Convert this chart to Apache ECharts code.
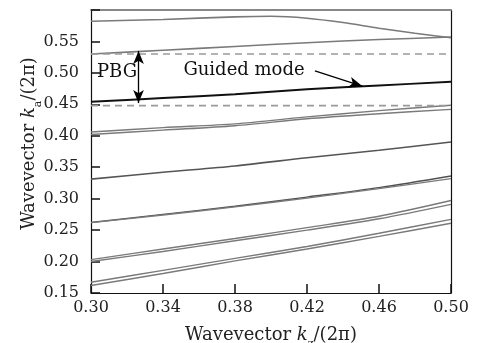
<!DOCTYPE html>
<html>
<head>
<meta charset="utf-8">
<script src="https://cdn.jsdelivr.net/npm/echarts@6/dist/echarts.min.js"></script>
<style>html,body{margin:0;padding:0;background:#fff;}#c{width:483px;height:343px;}</style>
</head>
<body>
<div id="c"></div>
<script>
// ---- data ----
const kz = [0.30, 0.34, 0.38, 0.42, 0.46, 0.50];
const kzTop = [0.30, 0.34, 0.38, 0.40, 0.42, 0.44, 0.46, 0.48, 0.50];
const band1 = [0.582, 0.585, 0.589, 0.590, 0.587, 0.580, 0.571, 0.563, 0.556];
const band2 = [0.530, 0.536, 0.542, 0.548, 0.553, 0.557];
const guided = [0.454, 0.460, 0.466, 0.474, 0.480, 0.486];
const band6a = [0.406, 0.413, 0.419, 0.430, 0.440, 0.4485];
const band6b = [0.402, 0.409, 0.416, 0.427, 0.435, 0.442];
const band7 = [0.331, 0.342, 0.352, 0.365, 0.377, 0.390];
const band8a = [0.262, 0.275, 0.288, 0.3025, 0.3175, 0.336];
const band8b = [0.262, 0.274, 0.287, 0.301, 0.316, 0.332];
const band9a = [0.203, 0.220, 0.2366, 0.254, 0.272, 0.297];
const band9b = [0.200, 0.216, 0.233, 0.250, 0.268, 0.291];
const band10a = [0.167, 0.186, 0.205, 0.224, 0.245, 0.267];
const band10b = [0.162, 0.181, 0.201, 0.220, 0.240, 0.261];
const gapEdges = [0.530, 0.448];          // photonic band gap edges (dashed)
const xTicks = [0.30, 0.34, 0.38, 0.42, 0.46, 0.50];
const yTicks = [0.15, 0.20, 0.25, 0.30, 0.35, 0.40, 0.45, 0.50, 0.55];
const pbgArrow = [[0.3264, 0.535], [0.3264, 0.452]];
const guidedArrow = [[0.4244, 0.5032], [0.451, 0.4785]];

const FONT = '"DejaVu Serif", "Liberation Serif", serif';
const zip = (xs, ys) => xs.map((x, i) => [x, ys[i]]);

function line(data, color, width, extra) {
  return Object.assign({
    type: 'line', data: data, showSymbol: false, smooth: 0.3, silent: true,
    lineStyle: { color: color, width: width }, z: 3
  }, extra || {});
}

const GRAY = '#7a7a7a';
const series = [
  line(zip(kzTop, band1), GRAY, 1.6),
  line(zip(kz, band2), GRAY, 1.6),
  line(zip(kz, band6a), GRAY, 1.4),
  line(zip(kz, band6b), GRAY, 1.4),
  line(zip(kz, band7), '#555', 1.6),
  line(zip(kz, band8a), '#505050', 1.4),
  line(zip(kz, band8b), GRAY, 1.3),
  line(zip(kz, band9a), GRAY, 1.4),
  line(zip(kz, band9b), GRAY, 1.4),
  line(zip(kz, band10a), GRAY, 1.4),
  line(zip(kz, band10b), GRAY, 1.4),
  line(zip(kz, guided), '#111', 1.9, { z: 4 }),
  line([[xTicks[0], gapEdges[0]], [xTicks[xTicks.length - 1], gapEdges[0]]], '#9a9a9a', 1.5,
       { smooth: false, lineStyle: { color: '#9a9a9a', width: 1.6, type: [7, 5] } }),
  line([[xTicks[0], gapEdges[1]], [xTicks[xTicks.length - 1], gapEdges[1]]], '#9a9a9a', 1.5,
       { smooth: false, lineStyle: { color: '#9a9a9a', width: 1.6, type: [7, 5] },
         markLine: {
           silent: true, animation: false, label: { show: false },
           data: [
             [{ coord: pbgArrow[0], symbol: 'arrow', symbolSize: [8, 13] },
              { coord: pbgArrow[1], symbol: 'arrow', symbolSize: [8, 13] }],
             [{ coord: guidedArrow[0], symbol: 'none' },
              { coord: guidedArrow[1], symbol: 'arrow', symbolSize: [8, 14] }]
           ],
           lineStyle: { color: '#000', width: 1.3, type: 'solid' }
         } })
];

const nameRich = {
  n: { fontFamily: FONT, fontSize: 18, color: '#222', lineHeight: 22 },
  k: { fontFamily: FONT, fontSize: 18, fontStyle: 'italic', color: '#222', lineHeight: 22 },
  s: { fontFamily: FONT, fontSize: 11, color: '#222', lineHeight: 29, verticalAlign: 'bottom' }
};

const chart = echarts.init(document.getElementById('c'), null, { renderer: 'canvas' });
chart.setOption({
  animation: false,
  backgroundColor: '#fff',
  grid: { left: 91, right: 32, top: 10, bottom: 50, containLabel: false, outerBoundsMode: 'none' },
  xAxis: [{
    type: 'value', min: 0.30, max: 0.50, interval: 0.04,
    axisLine: { show: true, lineStyle: { color: '#111', width: 1.2 } },
    axisTick: { show: true, inside: true, length: 9, lineStyle: { color: '#111', width: 1.5 } },
    axisLabel: { fontFamily: FONT, fontSize: 16, color: '#222', margin: 7,
                 formatter: v => v.toFixed(2) },
    splitLine: { show: false },
    name: '{n|Wavevector }{k|k}{s|z}{n|/(2π)}',
    nameLocation: 'middle', nameGap: 28, nameMoveOverlap: false,
    nameTextStyle: { rich: nameRich }
  }, {
    type: 'value', min: 0.30, max: 0.50, position: 'top',
    axisLine: { show: true, lineStyle: { color: '#888', width: 2 } },
    axisTick: { show: false }, axisLabel: { show: false }, splitLine: { show: false }
  }],
  yAxis: [{
    type: 'value', min: 0.15, max: 0.60, interval: 0.05,
    axisLine: { show: true, lineStyle: { color: '#111', width: 1.2 } },
    axisTick: { show: true, inside: true, length: 9, lineStyle: { color: '#111', width: 1.5 } },
    axisLabel: { fontFamily: FONT, fontSize: 16, color: '#222', margin: 12,
                 formatter: v => (Math.abs(v - 0.60) < 1e-9 ? '' : v.toFixed(2)) },
    splitLine: { show: false },
    name: '{n|Wavevector }{k|k}{s|a}{n|/(2π)}',
    nameLocation: 'middle', nameGap: 47, nameRotate: 90, nameMoveOverlap: false,
    nameTextStyle: { padding: [0, 0, 0, 16], rich: nameRich }
  }, {
    type: 'value', min: 0.15, max: 0.60, position: 'right',
    axisLine: { show: true, lineStyle: { color: '#111', width: 1.2 } },
    axisTick: { show: false }, axisLabel: { show: false }, splitLine: { show: false }
  }],
  graphic: [
    { type: 'text', x: 117, y: 72, z: 10,
      style: { text: 'PBG', font: '18px ' + FONT, fill: '#111', align: 'center', verticalAlign: 'middle' } },
    { type: 'text', x: 244, y: 70, z: 10,
      style: { text: 'Guided mode', font: '18px ' + FONT, fill: '#111', align: 'center', verticalAlign: 'middle' } }
  ],
  series: series
});
</script>
</body>
</html>
